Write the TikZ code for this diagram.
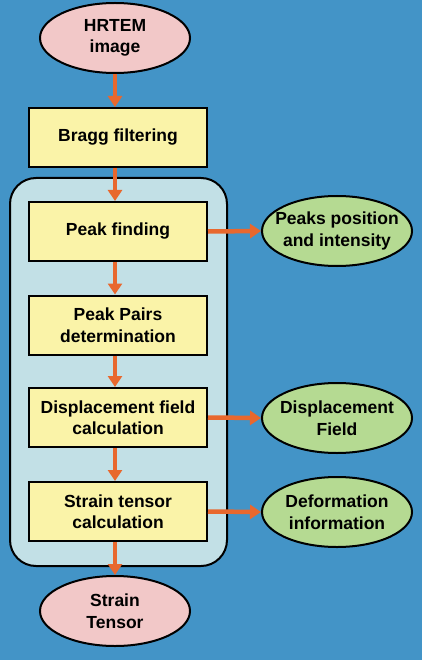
\documentclass[tikz,border=0pt]{standalone}
\usepackage{fontspec}
\setmainfont{Liberation Sans}
\usetikzlibrary{shapes.geometric,arrows.meta}
\definecolor{bgblue}{RGB}{67,148,199}
\definecolor{pinkfill}{RGB}{242,200,200}
\definecolor{yellowfill}{RGB}{250,243,168}
\definecolor{greenfill}{RGB}{181,218,146}
\definecolor{panelfill}{RGB}{194,224,230}
\definecolor{arroworange}{RGB}{232,104,46}
\tikzset{
  txt/.style={font=\fontsize{17.5}{21.5}\selectfont\bfseries, align=center, text=black},
  oval/.style={txt, ellipse, draw=black, line width=2pt, minimum width=150pt, minimum height=70pt, inner xsep=-40pt, inner ysep=0pt},
  startend/.style={oval, fill=pinkfill},
  result/.style={oval, fill=greenfill},
  stepbox/.style={txt, rectangle, draw=black, line width=2pt, fill=yellowfill, minimum width=178pt, minimum height=59pt, inner sep=0pt},
  panel/.style={draw=black, line width=2pt, fill=panelfill, rounded corners=26pt},
  flow/.style={draw=arroworange, line width=4.5pt, -{Triangle[width=14pt,length=11pt]}, color=arroworange},
}
\begin{document}
\begin{tikzpicture}[x=1pt,y=-1pt]
\fill[bgblue] (0,0) rectangle (422,660);
\useasboundingbox (0,0) rectangle (422,660);
\draw[panel] (10,178) rectangle (227,566);
\node[startend] (hrtem) at (115,38) {HRTEM\\image};
\node[stepbox] (bragg) at (118,137.5) {Bragg filtering};
\node[stepbox] (peak) at (118,231.5) {Peak finding};
\node[stepbox] (pairs) at (118,325) {Peak Pairs\\determination};
\node[stepbox] (disp) at (118,417.5) {Displacement field\\calculation};
\node[stepbox] (strain) at (118,511.5) {Strain tensor\\calculation};
\node[startend] (tensor) at (115,611) {Strain\\Tensor};
\node[result] (peakpos) at (337,231) {Peaks position\\and intensity};
\node[result] (dispf) at (337,418) {Displacement\\Field};
\node[result] (deform) at (337,512) {Deformation\\information};
\draw[flow] (hrtem.south) -- (hrtem.south |- bragg.north);
\draw[flow] (bragg.south -| hrtem.south) -- (peak.north -| hrtem.south);
\draw[flow] (peak.south -| hrtem.south) -- (pairs.north -| hrtem.south);
\draw[flow] (pairs.south -| hrtem.south) -- (disp.north -| hrtem.south);
\draw[flow] (disp.south -| hrtem.south) -- (strain.north -| hrtem.south);
\draw[flow] (strain.south -| hrtem.south) -- (tensor.north);
\draw[flow] (peak.east) -- (peakpos.west);
\draw[flow] (disp.east) -- (dispf.west);
\draw[flow] (strain.east) -- (deform.west);
\end{tikzpicture}
\end{document}
